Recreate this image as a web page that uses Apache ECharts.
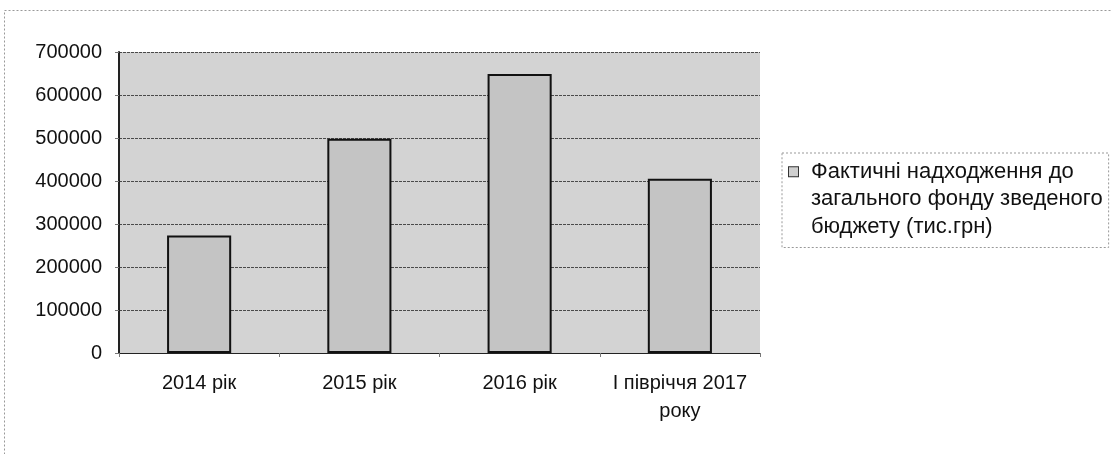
<!DOCTYPE html>
<html>
<head>
    <meta charset="utf-8">
    <script src="https://cdn.jsdelivr.net/npm/echarts@6/dist/echarts.min.js"></script>
    <title>Надходження</title>
</head>
<body style="margin:0;background:#fff;">
    <div id="main" style="width:1111px;height:454px;"></div>
    <script type="text/javascript">
        var categories = ['2014 рік', '2015 рік', '2016 рік', 'І півріччя 2017\nроку'];
        var seriesName = 'Фактичні надходження до загального фонду зведеного бюджету (тис.грн)';
        var legendLines = ['Фактичні надходження до', 'загального фонду зведеного', 'бюджету (тис.грн)'];
        var values = [273000, 498000, 649000, 405000];

        var myChart = echarts.init(document.getElementById('main'));
        var font = 'Liberation Sans, Arial, sans-serif';

        var option = {
            animation: false,
            backgroundColor: '#ffffff',
            graphic: [{
                type: 'rect',
                shape: { x: 4.5, y: 10.5, width: 1120, height: 460 },
                style: { fill: 'none', stroke: '#999', lineWidth: 1, lineDash: [2, 2] },
                silent: true
            }],
            grid: {
                left: 119,
                right: 351,
                top: 52,
                bottom: 101,
                show: true,
                backgroundColor: '#d3d3d3',
                borderWidth: 0
            },
            legend: {
                orient: 'vertical',
                left: 782,
                top: 153,
                padding: [5, 6, 7, 0],
                borderColor: '#999',
                borderWidth: 1,
                borderType: [2, 2],
                icon: 'rect',
                itemWidth: 1,
                itemHeight: 1,
                itemGap: 0,
                itemStyle: { opacity: 0 },
                formatter: function () {
                    return '{sq|}{g1|}' + legendLines[0] + '\n{g2|}' + legendLines[1] + '\n{g2|}' + legendLines[2];
                },
                textStyle: {
                    fontFamily: font,
                    fontSize: 22,
                    color: '#111',
                    lineHeight: 27.5,
                    rich: {
                        sq: { width: 9, height: 9, backgroundColor: '#cfcfcf', borderColor: '#333', borderWidth: 1, lineHeight: 27.5 },
                        g1: { width: 13, lineHeight: 27.5 },
                        g2: { width: 22, lineHeight: 27.5 }
                    }
                }
            },
            xAxis: {
                type: 'category',
                data: categories,
                axisLine: { lineStyle: { color: '#222', width: 1 } },
                axisTick: { show: true, length: 4, lineStyle: { color: '#777' } },
                axisLabel: {
                    interval: 0,
                    fontFamily: font,
                    fontSize: 20,
                    color: '#111',
                    margin: 16,
                    lineHeight: 28
                }
            },
            yAxis: {
                type: 'value',
                min: 0,
                max: 700000,
                interval: 100000,
                axisLine: { show: true, lineStyle: { color: '#222', width: 2 } },
                axisTick: { show: true, length: 4, lineStyle: { color: '#777' } },
                axisLabel: {
                    fontFamily: font,
                    fontSize: 20,
                    color: '#111',
                    margin: 17,
                    formatter: function (v) { return String(v); }
                },
                splitLine: { lineStyle: { color: '#4a4a4a', width: 1, type: [3, 1] } }
            },
            series: [{
                name: seriesName,
                type: 'bar',
                data: values,
                barWidth: '40%',
                itemStyle: {
                    color: '#c4c4c4',
                    borderColor: '#111',
                    borderWidth: 2
                }
            }]
        };

        myChart.setOption(option);
    </script>
</body>
</html>
